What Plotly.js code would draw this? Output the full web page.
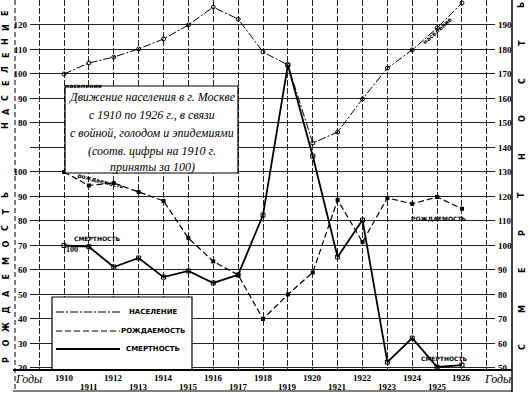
<!DOCTYPE html>
<html><head><meta charset="utf-8">
<script src="https://cdn.plot.ly/plotly-3.0.1.min.js"></script>
<style>html,body{margin:0;padding:0;background:#fff;}#chart{width:529px;height:393px;}</style>
</head><body><div id="chart"></div>
<script>
// ---- data (index, 1910 = 100) ----
const years = [1910,1911,1912,1913,1914,1915,1916,1917,1918,1919,1920,1921,1922,1923,1924,1925,1926];
const population = [100,104.5,106.9,110.2,114.3,120,127.3,122.4,109,103.7,71.8,76.3,89.8,102.4,109.8,118.8,129];
const birthRate  = [100,94.5,95.5,91.8,88.2,73,63.5,58,40,50,59,88.6,71.4,89.4,87,89.8,85];
const mortality  = [100,99.5,91.2,94.9,87.1,89.6,84.7,88,112.4,173.7,136.5,95.3,110.4,52.4,62.2,50.4,51.2];
const popTicks   = [80,90,100,110,120];
const birthTicks = [20,30,40,50,60,70,80,90,100];
const mortTicks  = [50,60,70,80,90,100,110,120,130,140,150,160,170,180,190];
const gridYears  = [1909,1910,1911,1912,1913,1914,1915,1916,1917,1918,1919,1920,1921,1922,1923,1924,1925,1926,1927];
const names = {pop:'НАСЕЛЕНИЕ', birth:'РОЖДАЕМОСТЬ', mort:'СМЕРТНОСТЬ'};
const sideLeftTop = 'НАСЕЛЕНИЕ', sideLeftBottom = 'РОЖДАЕМОСТЬ', sideRight = 'СМЕРТНОСТЬ';
const boxLines = ['Движение населения в г. Москве','с 1910 по 1926 г., в связи','с войной, голодом и эпидемиями','(соотв. цифры на 1910 г.','приняты за 100)'];

// ---- geometry helpers ----
const W=529,H=393,L=30,R=34,T=0,B=23, PW=W-L-R, PH=H-T-B;
const px = v => (v-L)/PW;
const py = v => (T+PH-v)/PH;

const ink = '#000';
const serif = 'Liberation Serif';
const POP_DASH = '8px,2px,2px,2px';
const BIRTH_DASH = '6px,3px';

const traces = [
  {x:years, y:population, yaxis:'y2', mode:'lines+markers', name:names.pop, showlegend:false,
   line:{color:ink,width:1,dash:POP_DASH}, marker:{symbol:'circle-open',size:4,color:ink,line:{width:1}}},
  {x:years, y:birthRate, yaxis:'y3', mode:'lines+markers', name:names.birth, showlegend:false,
   line:{color:ink,width:1.2,dash:BIRTH_DASH}, marker:{symbol:'square',size:4,color:ink}},
  {x:years, y:mortality, yaxis:'y', mode:'lines+markers', name:names.mort, showlegend:false,
   line:{color:ink,width:1.8}, marker:{symbol:'square-open',size:4,color:ink,line:{width:1}}}
];

const tickFont = {family:serif, size:9, color:ink, weight:'bold'};
const annotations = [];
const shapes = [];

// year labels in two rows
years.forEach((yr,i)=>{
  annotations.push({x:yr, xref:'x', y:py(i%2 ? 387 : 378), yref:'paper', text:String(yr), showarrow:false,
    font:tickFont, xanchor:'center', yanchor:'middle'});
});
// "Годы"
annotations.push({x:px(28), y:py(379), xref:'paper', yref:'paper', text:'Годы', showarrow:false,
  font:{family:serif,size:12,style:'italic',color:ink}, xanchor:'center', yanchor:'middle'});
annotations.push({x:px(497), y:py(379), xref:'paper', yref:'paper', text:'Годы', showarrow:false,
  font:{family:serif,size:12,style:'italic',color:ink}, xanchor:'center', yanchor:'middle'});

// side vertical letters
function sideLetters(word, xc, yBottom, step){
  [...word].forEach((ch,i)=>{
    annotations.push({x:px(xc), y:py(yBottom - i*step), xref:'paper', yref:'paper', text:ch, textangle:-90,
      showarrow:false, font:{family:'DejaVu Sans',size:8,color:ink,weight:'bold'}, xanchor:'center', yanchor:'middle'});
  });
}
sideLetters(sideLeftTop, 6, 126, 14);
sideLetters(sideLeftBottom, 6, 360, 16.5);
sideLetters(sideRight, 522, 347, 38);

// title box
shapes.push({type:'rect', xref:'paper', yref:'paper', x0:px(65), x1:px(238), y0:py(173), y1:py(86),
  fillcolor:'#fff', line:{color:ink,width:1.2}, layer:'above'});
const boxY = [97,115,133,151,167];
boxLines.forEach((t,i)=>{
  annotations.push({x:px(152), y:py(boxY[i]), xref:'paper', yref:'paper', text:t, showarrow:false,
    font:{family:serif,size:12,style:'italic',color:ink}, xanchor:'center', yanchor:'middle'});
});

// legend box
shapes.push({type:'rect', xref:'paper', yref:'paper', x0:px(52), x1:px(192), y0:py(370), y1:py(297),
  fillcolor:'#fff', line:{color:ink,width:1.2}, layer:'above'});
const legendRows = [
  {y:312, name:names.pop, line:{color:ink,width:1,dash:POP_DASH}},
  {y:331, name:names.birth, line:{color:ink,width:1.2,dash:BIRTH_DASH}},
  {y:349, name:names.mort, line:{color:ink,width:1.8}}
];
legendRows.forEach(r=>{
  shapes.push({type:'line', xref:'paper', yref:'paper', x0:px(56), x1:px(120), y0:py(r.y), y1:py(r.y), line:r.line, layer:'above'});
  annotations.push({x:px(153), y:py(r.y), xref:'paper', yref:'paper', text:r.name, showarrow:false,
    font:{family:'DejaVu Sans',size:7,color:ink,weight:'bold'}, xanchor:'center', yanchor:'middle'});
});

// in-chart series labels
const small = {family:'DejaVu Sans',size:6,color:ink,weight:'bold'};
annotations.push({x:px(63), y:py(80), xref:'paper', yref:'paper', text:names.pop.toLowerCase(), showarrow:false, font:small});
annotations.push({x:px(74), y:py(181), xref:'paper', yref:'paper', text:names.birth.toLowerCase(), textangle:14, showarrow:false, font:small});
annotations.push({x:px(72), y:py(238), xref:'paper', yref:'paper', text:names.mort, showarrow:false, font:small});
annotations.push({x:px(64), y:py(256), xref:'paper', yref:'paper', text:'100', showarrow:false, font:{family:serif,size:8,color:ink,weight:'bold'}});
annotations.push({x:px(456), y:py(13), xref:'paper', yref:'paper', text:names.pop.toLowerCase(), textangle:-42, showarrow:false, font:small});
annotations.push({x:px(468), y:py(218), xref:'paper', yref:'paper', text:names.birth, showarrow:false, font:small});
annotations.push({x:px(470), y:py(364), xref:'paper', yref:'paper', text:names.mort, showarrow:false, font:small});

// frame lines
shapes.push({type:'line', xref:'paper', yref:'paper', x0:px(13), x1:px(512), y0:py(370), y1:py(370), line:{color:ink,width:2}});
shapes.push({type:'line', xref:'paper', yref:'paper', x0:px(13), x1:px(512), y0:py(391), y1:py(391), line:{color:ink,width:1.2}});
shapes.push({type:'line', xref:'paper', yref:'paper', x0:px(512), x1:px(512), y0:py(0), y1:py(392), line:{color:ink,width:1.5}});
shapes.push({type:'line', xref:'paper', yref:'paper', x0:px(15), x1:px(15), y0:py(0), y1:py(392), line:{color:ink,width:1,dash:'5px,3px'}});

const layout = {
  width:W, height:H, margin:{l:L,r:R,t:T,b:B,pad:0},
  paper_bgcolor:'#fff', plot_bgcolor:'#fff', showlegend:false,
  xaxis:{range:[1908.633,1927.327], tickvals:gridYears, showticklabels:false, ticks:'',
    showgrid:true, gridcolor:'#222', gridwidth:1, griddash:'6px,2px', zeroline:false, showline:false},
  yaxis:{range:[49.18,200.2], side:'right', tickvals:mortTicks, ticks:'', tickfont:tickFont, ticklabelstandoff:2,
    showgrid:true, gridcolor:'#222', gridwidth:1, zeroline:false, showline:false},
  yaxis2:{overlaying:'y', side:'left', range:[-20.82,130.2], tickvals:popTicks, ticks:'', tickfont:tickFont,
    ticklabelstandoff:2, showgrid:false, zeroline:false, showline:false},
  yaxis3:{overlaying:'y', side:'left', range:[19.18,170.2], tickvals:birthTicks, ticks:'', tickfont:tickFont,
    ticklabelstandoff:2, showgrid:false, zeroline:false, showline:false},
  annotations, shapes
};
Plotly.newPlot('chart', traces, layout, {staticPlot:true, displayModeBar:false});
</script></body></html>
